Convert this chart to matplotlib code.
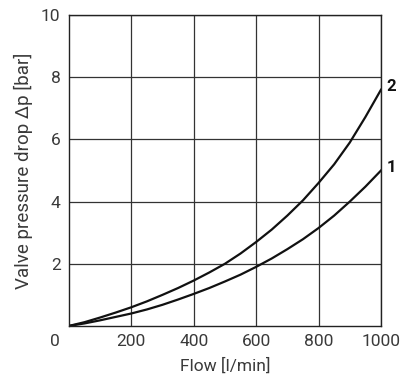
import matplotlib
matplotlib.use('Agg')
import matplotlib.pyplot as plt

# values
flow = [0, 50, 100, 150, 200, 250, 300, 350, 400, 450, 500, 550, 600, 650,
        700, 750, 800, 850, 900, 950, 1000]
dp_curve2 = [0, 0.12, 0.27, 0.43, 0.6, 0.79, 1.0, 1.22, 1.46, 1.72, 2.0, 2.33,
             2.7, 3.1, 3.55, 4.04, 4.6, 5.2, 5.9, 6.72, 7.6]
dp_curve1 = [0, 0.08, 0.18, 0.29, 0.4, 0.53, 0.68, 0.85, 1.03, 1.22, 1.43,
             1.65, 1.9, 2.17, 2.47, 2.79, 3.15, 3.55, 4.0, 4.48, 5.0]
x_ticks = [200, 400, 600, 800, 1000]
y_ticks = [2, 4, 6, 8, 10]

plt.rcParams['font.family'] = ['Roboto', 'DejaVu Sans']
txt = '#3a3a3a'

fig = plt.figure(figsize=(4.15, 3.88), dpi=100)
ax = fig.add_axes([0.166, 0.160, 0.752, 0.801])

ax.plot(flow, dp_curve2, color='#111111', lw=1.6, solid_joinstyle='round')
ax.plot(flow, dp_curve1, color='#111111', lw=1.6, solid_joinstyle='round')

ax.set_xlim(0, 1000)
ax.set_ylim(0, 10)
ax.set_xticks(x_ticks)
ax.set_yticks(y_ticks)
ax.grid(True, color='#333333', lw=0.9)
ax.tick_params(length=0, labelsize=12.5, labelcolor=txt, pad=6)
for s in ax.spines.values():
    s.set_color('#222222')
    s.set_linewidth(1.0)

ax.text(-0.03, -0.025, '0', transform=ax.transAxes, ha='right', va='top',
        fontsize=12.5, color=txt)

ax.text(1018, dp_curve2[-1] + 0.1, '2', fontsize=12, fontweight='bold',
        color='#111111', va='center', ha='left', clip_on=False)
ax.text(1018, dp_curve1[-1] + 0.1, '1', fontsize=12, fontweight='bold',
        color='#111111', va='center', ha='left', clip_on=False)

ax.set_xlabel('Flow [l/min]', fontsize=12.5, color=txt, labelpad=6)
ax.set_ylabel('Valve pressure drop Δp [bar]', fontsize=13.5, color=txt, labelpad=6)

fig.savefig('out.png', dpi=100)
